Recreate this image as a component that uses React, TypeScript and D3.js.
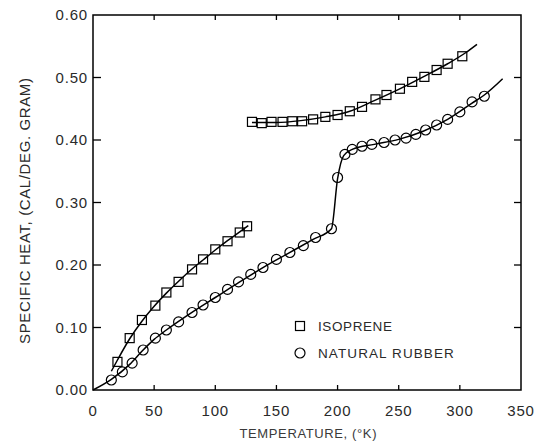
import React from "react";
import * as d3 from "d3";

// ---- data ----
const isopreneLowT = [20, 30, 40, 51, 60, 70, 81, 90, 100, 110, 120, 126];
const isopreneLowC = [0.045, 0.083, 0.112, 0.135, 0.156, 0.173, 0.193, 0.209, 0.225, 0.238, 0.252, 0.262];
const isopreneHighT = [130, 138, 146, 155, 163, 171, 180, 190, 200, 210, 220, 231, 240, 251, 261, 271, 281, 290, 302];
const isopreneHighC = [0.429, 0.427, 0.429, 0.429, 0.43, 0.43, 0.433, 0.437, 0.44, 0.446, 0.453, 0.465, 0.472, 0.482, 0.493, 0.501, 0.512, 0.522, 0.534];
const rubberT = [15, 24, 32, 41, 51, 60, 70, 81, 90, 100, 110, 119, 129, 139, 150, 161, 172, 182, 195, 200, 206, 212, 220, 228, 238, 247, 256, 264, 272, 281, 290, 300, 310, 320];
const rubberC = [0.016, 0.029, 0.043, 0.064, 0.083, 0.096, 0.109, 0.124, 0.136, 0.148, 0.161, 0.173, 0.185, 0.196, 0.209, 0.22, 0.231, 0.244, 0.258, 0.34, 0.377, 0.385, 0.39, 0.393, 0.396, 0.4, 0.403, 0.409, 0.416, 0.424, 0.433, 0.445, 0.461, 0.47];

// smooth hand-drawn curves (knots)
const isopreneLowFitT = [15, 20, 30, 40, 50, 60, 70, 80, 90, 100, 110, 120, 127];
const isopreneLowFitC = [0.03, 0.048, 0.082, 0.11, 0.134, 0.155, 0.174, 0.192, 0.208, 0.224, 0.239, 0.253, 0.263];
const isopreneHighFitT = [130, 150, 170, 190, 210, 230, 250, 270, 290, 305, 314];
const isopreneHighFitC = [0.428, 0.428, 0.431, 0.437, 0.446, 0.463, 0.481, 0.501, 0.522, 0.54, 0.553];
const rubberFitT = [0, 15, 30, 40, 50, 60, 80, 100, 120, 140, 160, 180, 195, 200, 205, 212, 230, 250, 270, 290, 310, 320, 335];
const rubberFitC = [0, 0.017, 0.041, 0.062, 0.081, 0.096, 0.123, 0.148, 0.173, 0.197, 0.219, 0.241, 0.258, 0.338, 0.375, 0.385, 0.393, 0.401, 0.414, 0.433, 0.459, 0.472, 0.498];

const xTicks = [0, 50, 100, 150, 200, 250, 300, 350];
const xTickLabels = ["0", "50", "100", "150", "200", "250", "300", "350"];
const yTicks = [0, 0.1, 0.2, 0.3, 0.4, 0.5, 0.6];
const yTickLabels = ["0.00", "0.10", "0.20", "0.30", "0.40", "0.50", "0.60"];
const legendLabels = ["ISOPRENE", "NATURAL RUBBER"];
const xTitle = "TEMPERATURE, (°K)";
const yTitle = "SPECIFIC HEAT, (CAL/DEG. GRAM)";

const W = 547;
const H = 443;
const L = 93, R = 521, T = 15, B = 390;
const FONT = "'Liberation Sans', Arial, sans-serif";
const INK = "#2a2a2a";

export default function App() {
  const x = d3.scaleLinear().domain([0, 350]).range([L, R]);
  const y = d3.scaleLinear().domain([0, 0.6]).range([B, T]);
  const line = d3
    .line<[number, number]>()
    .x((d) => x(d[0]))
    .y((d) => y(d[1]))
    .curve(d3.curveMonotoneX);
  const zip = (a: number[], b: number[]) => a.map((v, i) => [v, b[i]] as [number, number]);

  const fits = [
    zip(isopreneLowFitT, isopreneLowFitC),
    zip(isopreneHighFitT, isopreneHighFitC),
    zip(rubberFitT, rubberFitC),
  ];
  const squares = [...zip(isopreneLowT, isopreneLowC), ...zip(isopreneHighT, isopreneHighC)];
  const circles = zip(rubberT, rubberC);
  const sq = 9;

  return (
    <svg width={W} height={H} style={{ position: "absolute", left: 0, top: 0, background: "#fff" }}>
      <rect x={0} y={0} width={W} height={H} fill="#fff" />
      {/* frame */}
      <rect x={L} y={T} width={R - L} height={B - T} fill="none" stroke="#000" strokeWidth={1.5} />
      {/* y ticks */}
      {yTicks.map((v, i) => (
        <g key={"y" + i}>
          {i > 0 && i < yTicks.length - 1 && (
            <>
              <line x1={L} x2={L + 8} y1={y(v)} y2={y(v)} stroke="#000" strokeWidth={1.3} />
              <line x1={R} x2={R - 7} y1={y(v)} y2={y(v)} stroke="#000" strokeWidth={1.3} />
            </>
          )}
          <text x={88} y={y(v)} dy="0.36em" textAnchor="end" fontFamily={FONT} fontSize={15} letterSpacing={0.8} fill={INK}>
            {yTickLabels[i]}
          </text>
        </g>
      ))}
      {/* x ticks */}
      {xTicks.map((v, i) => (
        <g key={"x" + i}>
          {i > 0 && i < xTicks.length - 1 && (
            <>
              <line x1={x(v)} x2={x(v)} y1={B} y2={B - 5} stroke="#000" strokeWidth={1.3} />
              <line x1={x(v)} x2={x(v)} y1={T} y2={T + 5} stroke="#000" strokeWidth={1.3} />
            </>
          )}
          <text x={x(v)} y={411} dy="0.36em" textAnchor="middle" fontFamily={FONT} fontSize={15} letterSpacing={0.8} fill={INK}>
            {xTickLabels[i]}
          </text>
        </g>
      ))}
      {/* axis titles */}
      <text
        x={308}
        y={433}
        dy="0.36em"
        textAnchor="middle"
        fontFamily={FONT}
        fontSize={13}
        textLength={137}
        lengthAdjust="spacing"
        fill="#3a3a3a"
      >
        {xTitle}
      </text>
      <text
        transform={`translate(25,${211}) rotate(-90)`}
        dy="0.36em"
        textAnchor="middle"
        fontFamily={FONT}
        fontSize={15}
        textLength={266}
        lengthAdjust="spacing"
        fill={INK}
      >
        {yTitle}
      </text>
      {/* curves */}
      {fits.map((f, i) => (
        <path key={"f" + i} d={line(f) || ""} fill="none" stroke="#000" strokeWidth={1.5} />
      ))}
      {/* markers */}
      {squares.map((d, i) => (
        <rect
          key={"s" + i}
          x={x(d[0]) - sq / 2}
          y={y(d[1]) - sq / 2}
          width={sq}
          height={sq}
          fill="none"
          stroke="#000"
          strokeWidth={1.2}
        />
      ))}
      {circles.map((d, i) => (
        <circle key={"c" + i} cx={x(d[0])} cy={y(d[1])} r={5} fill="none" stroke="#000" strokeWidth={1.2} />
      ))}
      {/* legend */}
      <rect x={300 - sq / 2} y={326 - sq / 2} width={sq} height={sq} fill="none" stroke="#000" strokeWidth={1.2} />
      <text x={318} y={326} dy="0.36em" fontFamily={FONT} fontSize={13.5} letterSpacing={0.6} fill={INK}>
        {legendLabels[0]}
      </text>
      <circle cx={300} cy={353} r={5} fill="none" stroke="#000" strokeWidth={1.2} />
      <text x={318} y={353} dy="0.36em" fontFamily={FONT} fontSize={13.5} letterSpacing={1.1} fill={INK}>
        {legendLabels[1]}
      </text>
    </svg>
  );
}
